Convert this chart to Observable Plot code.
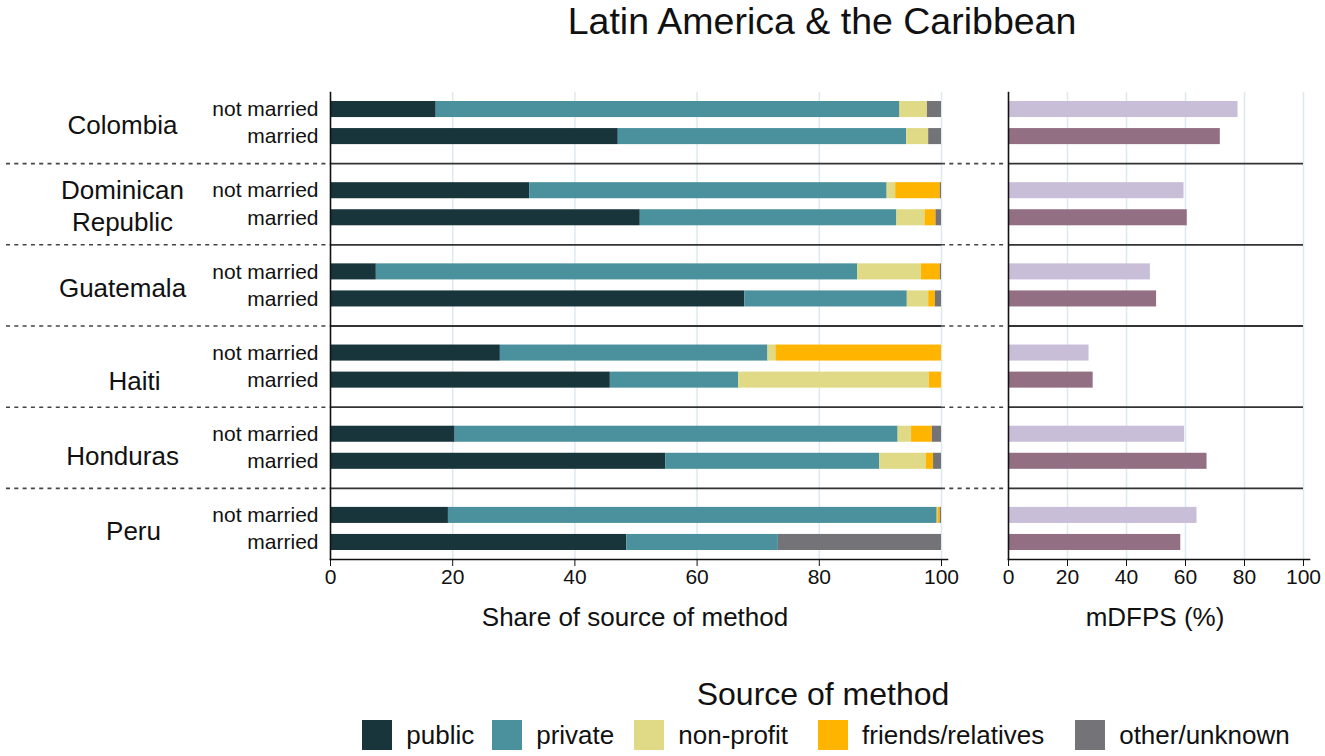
<!DOCTYPE html>
<html>
<head>
<meta charset="utf-8">
<script src="https://cdn.jsdelivr.net/npm/d3@7"></script>
<script src="https://cdn.jsdelivr.net/npm/@observablehq/plot@0.6"></script>
<style>
  body { margin: 0; background: #fff; font-family: "Liberation Sans", Arial, Helvetica, sans-serif; color: #111; }
  #wrap { position: relative; width: 1325px; height: 756px; overflow: hidden; background: #fff; }
  .abs { position: absolute; }
  .title { left: 322px; width: 1000px; top: 2px; text-align: center; font-size: 37.5px; line-height: 38px; white-space: nowrap; }
  .axt { font-size: 26px; line-height: 26px; text-align: center; top: 604px; }
  .legtitle { left: 323px; width: 1000px; top: 678px; text-align: center; font-size: 32px; line-height: 32px; }
  .legend { left: 326px; width: 1000px; top: 720px; display: flex; justify-content: center; align-items: center; height: 30px; }
  .item { display: flex; align-items: center; }
  .sw { width: 30px; height: 30px; margin-right: 14px; }
  .lab { font-size: 26px; line-height: 26px; white-space: nowrap; }
</style>
</head>
<body>
<div id="wrap"></div>
<script>
// ---------------- data ----------------
const countries = ["Colombia", "Dominican Republic", "Guatemala", "Haiti", "Honduras", "Peru"];
const statuses = ["not married", "married"];
const sources = ["public", "private", "non-profit", "friends/relatives", "other/unknown"];
// shares (%) per row: country × (not married, married)
const publicShare    = [17.3, 47.1, 32.6, 50.7,  7.5, 67.8, 27.8, 45.8, 20.4, 54.9, 19.3, 48.5];
const privateShare   = [75.9, 47.2, 58.5, 42.0, 78.8, 26.6, 43.8, 21.0, 72.5, 35.0, 80.0, 24.8];
const nonprofitShare = [ 4.5,  3.6,  1.4,  4.6, 10.4,  3.5,  1.3, 31.2,  2.2,  7.6,  0.1,  0.0];
const friendsShare   = [ 0.0,  0.0,  7.3,  1.8,  3.1,  1.1, 27.1,  2.0,  3.4,  1.2,  0.4,  0.0];
const otherShare     = [ 2.3,  2.1,  0.2,  0.9,  0.2,  1.0,  0.0,  0.0,  1.5,  1.3,  0.2, 26.7];
// mDFPS (%) per country
const mdfpsNotMarried = [77.8, 59.5, 48.1, 27.3, 59.7, 63.9];
const mdfpsMarried    = [71.8, 60.6, 50.2, 28.7, 67.3, 58.4];
const xTicks = [0, 20, 40, 60, 80, 100];
const gridTicks = [20, 40, 60, 80, 100];

// ---------------- styles ----------------
const sourceColors = ["#17353b", "#4a909d", "#e0da86", "#ffb400", "#747478"];
const statusColors = ["#c8bed7", "#936f84"];
const legendGaps = [0, 18, 20, 30, 31];
const FONT = '"Liberation Sans", Arial, Helvetica, sans-serif';
const GRID = "#dde9ef";
const H = 600, MT = 92, MB = 41, PI = 0.407, PO = 0.333;
const LW = 960, LML = 330, LMR = 19;
const RW = 365, RML = 48, RMR = 22;

// ---------------- derived tables ----------------
const rowKey = (c, s) => `${c}|${s}`;
const yDomain = countries.flatMap((c, i) => {
  const r = statuses.map(s => rowKey(c, s));
  return i < countries.length - 1 ? [...r, rowKey(c, "sep")] : r;
});
const sepRows = countries.slice(0, -1).map(c => rowKey(c, "sep"));
const barRows = countries.flatMap(c => statuses.map(s => rowKey(c, s)));
const shares = [publicShare, privateShare, nonprofitShare, friendsShare, otherShare];
const sourceTable = barRows.flatMap((row, i) =>
  sources.map((source, j) => ({row, source, value: shares[j][i]})));
const mdfpsTable = countries.flatMap((c, i) => [
  {row: rowKey(c, "not married"), status: "not married", value: mdfpsNotMarried[i]},
  {row: rowKey(c, "married"), status: "married", value: mdfpsMarried[i]}
]);

const step = (H - MT - MB) / (yDomain.length - PI + 2 * PO);
const yScale = {type: "band", domain: yDomain, paddingInner: PI, paddingOuter: PO, round: false, label: null, axis: null};

// label layout tweaks (pixel positions of country labels)
const labelLayout = {
  "Haiti": {status: "married", dy: 0, dx: 12},
  "Honduras": {dy: step / 2 + 7},
  "Peru": {dx: 11}
};
const countryMarks = countries.map(c => {
  const L = labelLayout[c] || {};
  return Plot.text([c], {
    y: d => rowKey(d, L.status || "not married"),
    text: d => d.replace(" ", "\n"),
    frameAnchor: "left",
    dx: -LML + 122 + (L.dx || 0),
    dy: L.dy ?? step / 2 + 1,
    textAnchor: "middle",
    fontSize: 26,
    lineHeight: 1.23,
    fill: "#111"
  });
});

const dotted = {stroke: "#444", strokeWidth: 1.6, strokeDasharray: "4,4.3"};
const solidSep = Plot.ruleY(sepRows, {stroke: "#333", strokeWidth: 1.8});

const axisMarks = () => [
  Plot.frame({anchor: "left", stroke: "#111", strokeWidth: 1.6}),
  Plot.frame({anchor: "bottom", stroke: "#111", strokeWidth: 1.6, insetRight: -6}),
  Plot.axisX(xTicks, {tickSize: 7, tickPadding: 3, fontSize: 21, label: null, stroke: "#111", fill: "#111"})
];

const leftFrameW = LW - LML - LMR;
const left = Plot.plot({
  width: LW, height: H,
  marginLeft: LML, marginRight: LMR, marginTop: MT, marginBottom: MB,
  style: {overflow: "visible", fontFamily: FONT, background: "transparent", color: "#111"},
  x: {domain: [0, 100], label: null},
  y: yScale,
  color: {domain: sources, range: sourceColors},
  marks: [
    Plot.gridX(gridTicks, {stroke: GRID, strokeOpacity: 1, strokeWidth: 1.5}),
    Plot.barX(sourceTable, {x: "value", y: "row", fill: "source"}),
    Plot.ruleY(sepRows, {...dotted, insetLeft: -324, insetRight: leftFrameW}),
    Plot.ruleY(sepRows, {...dotted, insetLeft: leftFrameW, insetRight: -64}),
    solidSep,
    ...axisMarks(),
    Plot.axisY(barRows, {tickFormat: d => d.split("|")[1], tickSize: 0, tickPadding: 12, fontSize: 21, label: null, fill: "#111"}),
    ...countryMarks
  ]
});

const right = Plot.plot({
  width: RW, height: H,
  marginLeft: RML, marginRight: RMR, marginTop: MT, marginBottom: MB,
  style: {overflow: "visible", fontFamily: FONT, background: "transparent", color: "#111"},
  x: {domain: [0, 100], label: null},
  y: yScale,
  color: {domain: statuses, range: statusColors},
  marks: [
    Plot.gridX(gridTicks, {stroke: GRID, strokeOpacity: 1, strokeWidth: 1.5}),
    Plot.barX(mdfpsTable, {x: "value", y: "row", fill: "status"}),
    Plot.ruleY(sepRows, {stroke: "#333", strokeWidth: 1.8}),
    ...axisMarks()
  ]
});

// ---------------- layout ----------------
const wrap = document.getElementById("wrap");
const add = (html, cls, styleStr) => {
  const d = document.createElement("div");
  d.className = "abs " + cls;
  if (styleStr) d.setAttribute("style", styleStr);
  d.innerHTML = html;
  wrap.appendChild(d);
  return d;
};
add("Latin America &amp; the Caribbean", "title");
const lw = document.createElement("div"); lw.className = "abs"; lw.style.left = "0px"; lw.style.top = "0px"; lw.appendChild(left); wrap.appendChild(lw);
const rw = document.createElement("div"); rw.className = "abs"; rw.style.left = LW + "px"; rw.style.top = "0px"; rw.appendChild(right); wrap.appendChild(rw);
add("Share of source of method", "axt", "left:335px;width:600px;");
add("mDFPS (%)", "axt", "left:955px;width:400px;");
add("Source of method", "legtitle");
const leg = add("", "legend");
sources.forEach((s, i) => {
  const it = document.createElement("div");
  it.className = "item";
  it.style.marginLeft = legendGaps[i] + "px";
  it.innerHTML = `<div class="sw" style="background:${sourceColors[i]}"></div><div class="lab">${s}</div>`;
  leg.appendChild(it);
});
</script>
</body>
</html>
